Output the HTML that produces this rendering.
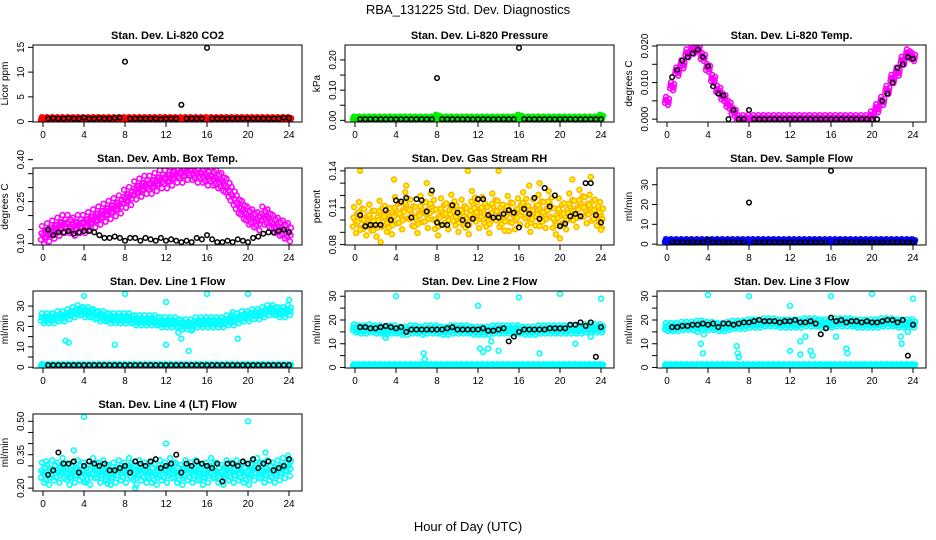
<!DOCTYPE html>
<html><head><meta charset="utf-8"><style>
html,body{margin:0;padding:0;background:#fff}
svg{display:block;font-family:"Liberation Sans",Arial,sans-serif}
</style></head><body>
<svg id="c" width="936" height="540" viewBox="0 0 936 540" xmlns="http://www.w3.org/2000/svg">
<rect width="936" height="540" fill="#fff"/>
<text x="468" y="14" text-anchor="middle" font-size="13">RBA_131225  Std. Dev. Diagnostics</text>
<text x="468" y="531" text-anchor="middle" font-size="13">Hour of Day (UTC)</text>
</svg>
<script>
// ---- data (color series at 0,0.5,...,24 h; black series at 0.5,...,24 h) ----
const xTicks=[0,4,8,12,16,20,24];
const co2Color=[0.5,0.5,0.5,0.5,0.5,0.5,0.5,0.5,0.5,0.5,0.5,0.5,0.5,0.5,0.5,0.5,0.5,0.5,0.5,0.5,0.5,0.5,0.5,0.5,0.5,0.5,0.5,0.5,0.5,0.5,0.5,0.5,0.5,0.5,0.5,0.5,0.5,0.5,0.5,0.5,0.5,0.5,0.5,0.5,0.5,0.5,0.5,0.5,0.5];
const co2Black=[0.6,0.7,0.6,0.6,0.7,0.6,0.6,0.8,0.6,0.6,0.7,0.6,0.6,0.7,0.8,12.1,0.6,0.6,0.6,0.6,0.6,0.6,0.5,0.6,0.6,0.6,3.4,0.6,0.6,0.6,0.6,14.9,0.6,0.6,0.6,0.6,0.6,0.6,0.6,0.6,0.6,0.6,0.6,0.6,0.6,0.6,0.8,0.7];
const pressColor=[0.006,0.006,0.006,0.006,0.006,0.006,0.006,0.006,0.006,0.006,0.006,0.006,0.006,0.006,0.006,0.006,0.012,0.006,0.006,0.006,0.006,0.006,0.006,0.006,0.006,0.006,0.006,0.006,0.006,0.006,0.006,0.006,0.012,0.006,0.006,0.006,0.006,0.006,0.006,0.006,0.006,0.006,0.006,0.006,0.006,0.006,0.006,0.006,0.012];
const pressBlack=[0.004,0.004,0.004,0.004,0.004,0.004,0.004,0.004,0.004,0.004,0.004,0.004,0.004,0.004,0.004,0.14,0.004,0.004,0.004,0.004,0.004,0.004,0.004,0.004,0.004,0.004,0.004,0.004,0.004,0.004,0.004,0.24,0.004,0.004,0.004,0.004,0.004,0.004,0.004,0.004,0.004,0.004,0.004,0.004,0.004,0.004,0.004,0.004];
const tempColor=[0.005,0.009,0.013,0.015,0.018,0.019,0.0195,0.017,0.014,0.011,0.008,0.006,0.004,0.002,0,0,0,0,0,0,0,0,0,0,0,0,0,0,0,0,0,0,0,0,0,0,0,0,0,0,0.001,0.003,0.005,0.008,0.011,0.013,0.016,0.018,0.017];
const tempBlack=[0.0115,0.0135,0.016,0.017,0.018,0.019,0.017,0.0145,0.009,0.007,0.0065,0,0.0025,0,0,0.0025,0,0,0,0,0,0,0,0,0,0,0,0,0,0,0,0,0,0,0,0,0,0,0,0,0,0.005,0.007,0.010,0.014,0.015,0.017,0.0165];
const boxColor=[0.13,0.14,0.15,0.16,0.17,0.17,0.16,0.17,0.17,0.18,0.19,0.20,0.21,0.22,0.23,0.24,0.26,0.27,0.29,0.30,0.31,0.31,0.32,0.33,0.33,0.34,0.35,0.35,0.36,0.36,0.35,0.35,0.34,0.34,0.33,0.32,0.30,0.27,0.24,0.22,0.20,0.19,0.18,0.20,0.19,0.17,0.16,0.15,0.14];
const boxBlack=[0.15,0.13,0.14,0.14,0.145,0.135,0.14,0.145,0.145,0.14,0.13,0.12,0.12,0.125,0.12,0.11,0.12,0.12,0.11,0.12,0.115,0.11,0.12,0.11,0.115,0.11,0.105,0.11,0.105,0.12,0.115,0.13,0.115,0.105,0.105,0.11,0.105,0.115,0.11,0.105,0.12,0.125,0.135,0.14,0.14,0.145,0.15,0.14];
const rhColor=[0.100,0.104,0.098,0.102,0.097,0.105,0.101,0.099,0.108,0.103,0.112,0.106,0.100,0.109,0.104,0.111,0.098,0.107,0.103,0.110,0.101,0.106,0.099,0.113,0.104,0.108,0.100,0.111,0.105,0.102,0.109,0.103,0.107,0.112,0.101,0.106,0.110,0.104,0.113,0.099,0.107,0.103,0.111,0.105,0.114,0.108,0.110,0.106,0.104];
const rhOutT=[0.5,0.5,2.5,3.8,5,7,14,15,17,18,18,21.2,23,24,20,11];
const rhOutV=[0.14,0.092,0.082,0.133,0.128,0.130,0.14,0.091,0.128,0.130,0.095,0.133,0.135,0.092,0.085,0.14];
const rhBlack=[0.104,0.095,0.096,0.096,0.096,0.108,0.100,0.116,0.115,0.118,0.102,0.117,0.116,0.107,0.124,0.098,0.096,0.096,0.112,0.106,0.100,0.096,0.101,0.117,0.117,0.104,0.102,0.102,0.105,0.108,0.106,0.094,0.109,0.105,0.118,0.101,0.126,0.111,0.120,0.095,0.097,0.103,0.105,0.103,0.130,0.130,0.104,0.098];
const flowColor=[1.5,1.5,1.5,1.5,1.5,1.5,1.5,1.5,1.5,1.5,1.5,1.5,1.5,1.5,1.5,1.5,1.5,1.5,1.5,1.5,1.5,1.5,1.5,1.5,1.5,1.5,1.5,1.5,1.5,1.5,1.5,1.5,1.5,1.5,1.5,1.5,1.5,1.5,1.5,1.5,1.5,1.5,1.5,1.5,1.5,1.5,1.5,1.5,1.5];
const flowBlack=[1,1,1,1,1.2,1,1,2,1,1,1,1,1,1,1,21,1,1,1,1,1,1,1,1,1,1,1,1,1,1,1,37,1,1,1,1,1,1,1,1,1,1,1,1,1,1,1,1];
const lowColor=[1,1,1,1,1,1,1,1,1,1,1,1,1,1,1,1,1,1,1,1,1,1,1,1,1,1,1,1,1,1,1,1,1,1,1,1,1,1,1,1,1,1,1,1,1,1,1,1,1];
const line1Color=[24,24,24,25,25,26,27,28,27,27,26,25,25,24,24,24,24,24,23,23,23,23,23,22,22,22,22,21,21,21,22,22,22,22,22,22,23,23,24,25,25,26,26,27,28,28,27,27,28];
const line1Black=[1,1,1,1,1,1,1,1,1,1,1,1,1,1,1,1,1,1,1,1,1,1,1,1,1,1,1,1,1,1,1,1,1,1,1,1,1,1,1,1,1,1,1,1,1,1,1,1];
const line1OutT=[4,8,12,16,20,24,2.2,2.5,7,12,13.2,13.5,14.2,14.5,19,18.5];
const line1OutV=[35,36,32,36,36,33,13,12,11,11,17,14,8,18,14,27];
const line2Color=[16.5,16,16,16.5,16,16,15.5,16,16,15.5,15.5,16,16,15.5,16,16,16,15.5,15.5,16,16,16,16,15.5,15.5,15.5,15.5,16,16,16,16,16,16,15.5,15.5,15.5,16,16,16,16,16,16,16,16,16,16.5,16.5,16.5,16.5];
const line2Black=[17,17,16.5,16.5,17,17.5,17,16.5,17,15,16,16,16,16,16,16,16,16.5,17,16,16,16,16,16,16.5,15.5,15.5,16,16.5,11,13,15,16,16,16,16,16,16.5,16.5,16.5,16.5,18,18,19,17.5,19,4.5,17];
const line2OutT=[4,8,12,16,20,24,6.7,6.8,12.2,12.5,13,13.3,14,18,21.5,23,3];
const line2OutV=[30,30,26,29.5,31,29,6,3.5,8,6.5,8,11,7,6,10,13,12.5];
const line3Color=[17,17,17,17.5,17.5,17.5,18,18,17.5,17.5,17,17,17.5,18,18,18,18.5,18.5,18.5,19,19,19,18.5,18.5,18.5,18.5,18.5,19,19,19,18.5,18.5,18.5,19,19,19,19,18.5,18.5,18.5,18.5,18.5,19,19,19,18.5,18.5,18.5,18.5];
const line3Black=[17,17,17.5,17.5,18,18,18.5,18,18.5,17,18.5,18.5,18,18.5,19,19,19.5,20,19.5,19.5,19.5,19,19.5,19.5,20,19,19,19.5,18.5,14,16.5,21,19.5,20,19,19.5,19.5,19,19.5,19,19,19.5,20,20,19,20,5,18];
const line3OutT=[4,8,12,16,20,24,3,3.3,3.5,3.6,6.8,6.9,7,12,13,13,13.5,14,14.2,17.5,17.6,16.5,22.8,22.9,23.5];
const line3OutV=[30.5,30,26,30,31,29,15,10,6,14,9,6,4.5,7,11,5.5,13,7,5,8,6,13,13,10,15];
const line4Color=[0.27,0.26,0.28,0.27,0.29,0.26,0.27,0.28,0.27,0.26,0.29,0.27,0.28,0.26,0.27,0.28,0.27,0.29,0.26,0.28,0.27,0.27,0.26,0.28,0.27,0.29,0.27,0.26,0.28,0.27,0.28,0.26,0.27,0.29,0.27,0.26,0.28,0.27,0.28,0.27,0.26,0.28,0.29,0.27,0.28,0.27,0.28,0.29,0.30];
const line4OutT=[4,20,12,3,4,6.3,9,21.7,24,0.3];
const line4OutV=[0.52,0.50,0.40,0.37,0.23,0.22,0.20,0.36,0.33,0.32];
const line4Black=[0.26,0.28,0.36,0.31,0.31,0.32,0.27,0.30,0.32,0.31,0.30,0.31,0.28,0.28,0.29,0.30,0.27,0.32,0.31,0.30,0.32,0.33,0.29,0.30,0.31,0.35,0.27,0.31,0.30,0.32,0.31,0.30,0.29,0.31,0.23,0.31,0.31,0.30,0.32,0.31,0.33,0.29,0.31,0.32,0.28,0.29,0.30,0.33];

const NS="http://www.w3.org/2000/svg";
const svg=document.getElementById('c');
function mk(tag,attrs,parent){const e=document.createElementNS(NS,tag);for(const k in attrs)e.setAttribute(k,attrs[k]);(parent||svg).appendChild(e);return e;}

const panels=[
 {key:'co2',title:'Stan. Dev. Li-820 CO2',ylab:'Licor ppm',col:0,row:0,yt:[0,5,10,15],yl:['0','5','10','15'],color:co2Color,black:co2Black,stroke:'#ff0000',fill:'none',band:2},
 {key:'pressure',title:'Stan. Dev. Li-820 Pressure',ylab:'kPa',col:1,row:0,yt:[0,0.05,0.10,0.15,0.20],yl:['0.00','','0.10','','0.20'],color:pressColor,black:pressBlack,stroke:'#00ee00',fill:'none',band:2},
 {key:'li820-temp',title:'Stan. Dev. Li-820 Temp.',ylab:'degrees C',col:2,row:0,yt:[0,0.005,0.010,0.015,0.020],yl:['0.000','','0.010','','0.020'],color:tempColor,black:tempBlack,stroke:'#ff00ff',fill:'none',band:4},
 {key:'amb-box-temp',title:'Stan. Dev. Amb. Box Temp.',ylab:'degrees C',col:0,row:1,yt:[0.10,0.15,0.20,0.25,0.30,0.35,0.40],yl:['0.10','','','0.25','','','0.40'],color:boxColor,black:boxBlack,stroke:'#ff00ff',fill:'none',band:9},
 {key:'gas-stream-rh',title:'Stan. Dev. Gas Stream RH',ylab:'percent',col:1,row:1,yt:[0.08,0.09,0.10,0.11,0.12,0.13,0.14],yl:['0.08','','','0.11','','','0.14'],color:rhColor,outT:rhOutT,outV:rhOutV,black:rhBlack,stroke:'#ffb400',fill:'#ffff00',band:13},
 {key:'sample-flow',title:'Stan. Dev. Sample Flow',ylab:'ml/min',col:2,row:1,yt:[0,10,20,30],yl:['0','10','20','30'],color:flowColor,black:flowBlack,stroke:'#0000ff',fill:'none',band:2},
 {key:'line1-flow',title:'Stan. Dev. Line 1 Flow',ylab:'ml/min',col:0,row:2,yt:[0,5,10,15,20,25,30],yl:['0','','10','','20','','30'],color:line1Color,low:lowColor,outT:line1OutT,outV:line1OutV,black:line1Black,stroke:'#00ffff',fill:'none',band:5},
 {key:'line2-flow',title:'Stan. Dev. Line 2 Flow',ylab:'ml/min',col:1,row:2,yt:[0,5,10,15,20,25,30],yl:['0','','10','','20','','30'],color:line2Color,low:lowColor,outT:line2OutT,outV:line2OutV,black:line2Black,stroke:'#00ffff',fill:'none',band:4},
 {key:'line3-flow',title:'Stan. Dev. Line 3 Flow',ylab:'ml/min',col:2,row:2,yt:[0,5,10,15,20,25,30],yl:['0','','10','','20','','30'],color:line3Color,low:lowColor,outT:line3OutT,outV:line3OutV,black:line3Black,stroke:'#00ffff',fill:'none',band:4},
 {key:'line4-flow',title:'Stan. Dev. Line 4 (LT) Flow',ylab:'ml/min',col:0,row:3,yt:[0.20,0.25,0.30,0.35,0.40,0.45,0.50],yl:['0.20','','','0.35','','','0.50'],color:line4Color,outT:line4OutT,outV:line4OutV,black:line4Black,stroke:'#00ffff',fill:'none',band:10}
];
const colLeft=[33,345,657], rowTop=[45,168,291,414], W=269, H=77;
const jit=[[-0.2,0.5],[-0.1,-1],[0,0],[0.1,1],[0.2,-0.5],[-0.15,-0.2],[0.15,0.3]];

panels.forEach(p=>{
  const L=colLeft[p.col], T=rowTop[p.row], B=T+H, R=L+W;
  const g=mk('g',{});
  
  
  const vals=[].concat(p.color,p.black,p.low||[],p.outV||[]);
  let mn=Math.min(...vals), mx=Math.max(...vals);
  const pad=(mx-mn)*0.04; mn-=pad; mx+=pad;
  const xs=t=>L+10+t*10.25;
  const ys=v=>B-(v-mn)/(mx-mn)*H;
  const ti=mk('text',{x:(L+R)/2,y:T-6,'text-anchor':'middle','font-size':11,'font-weight':'bold'},g);
  ti.textContent=p.title;
  
  
  const yl=mk('text',{transform:`translate(${L-25},${(T+B)/2}) rotate(-90)`,'text-anchor':'middle','font-size':10},g);
  yl.textContent=p.ylab;
  
  
  xTicks.forEach(t=>{
    mk('line',{x1:xs(t),x2:xs(t),y1:B,y2:B+5,stroke:'#000'},g);
    const tx=mk('text',{x:xs(t),y:B+16,'text-anchor':'middle','font-size':10},g);
    tx.textContent=String(t);
    
    
  });
  p.yt.forEach((v,i)=>{
    const y=ys(v);
    mk('line',{x1:L-5,x2:L,y1:y,y2:y,stroke:'#000'},g);
    if(p.yl[i]){
      const tx=mk('text',{transform:`translate(${L-9},${y}) rotate(-90)`,'text-anchor':'middle','font-size':10},g);
      tx.textContent=p.yl[i];
      
      
    }
  });
  const clip='clip-'+p.key;
  const cp=mk('clipPath',{id:clip},g); mk('rect',{x:L,y:T,width:W,height:H},cp);
  const pts=mk('g',{'clip-path':`url(#${clip})`},g);
  const drawBand=(arr,band,name)=>{
    arr.forEach((v,i)=>{
      jit.forEach(j=>{
        const c=mk('circle',{cx:xs(i*0.5+j[0]),cy:ys(v)+j[1]*band,r:2.4,fill:p.fill,stroke:p.stroke,'stroke-width':1.6},pts);
        
        
      });
    });
  };
  if(p.low) drawBand(p.low,1,'low-point');
  drawBand(p.color,p.band,'color-point');
  if(p.outT) p.outT.forEach((t,i)=>{
    const c=mk('circle',{cx:xs(t),cy:ys(p.outV[i]),r:2.4,fill:p.fill,stroke:p.stroke,'stroke-width':1.6},pts);
    
    
  });
  p.black.forEach((v,i)=>{
    const c=mk('circle',{cx:xs((i+1)*0.5),cy:ys(v),r:2.3,fill:'none',stroke:'#000','stroke-width':1.5},pts);
    
    
  });
  const box=mk('rect',{x:L,y:T,width:W,height:H,fill:'none',stroke:'#000','stroke-width':1},g);
  
  
});
</script>
</body></html>
